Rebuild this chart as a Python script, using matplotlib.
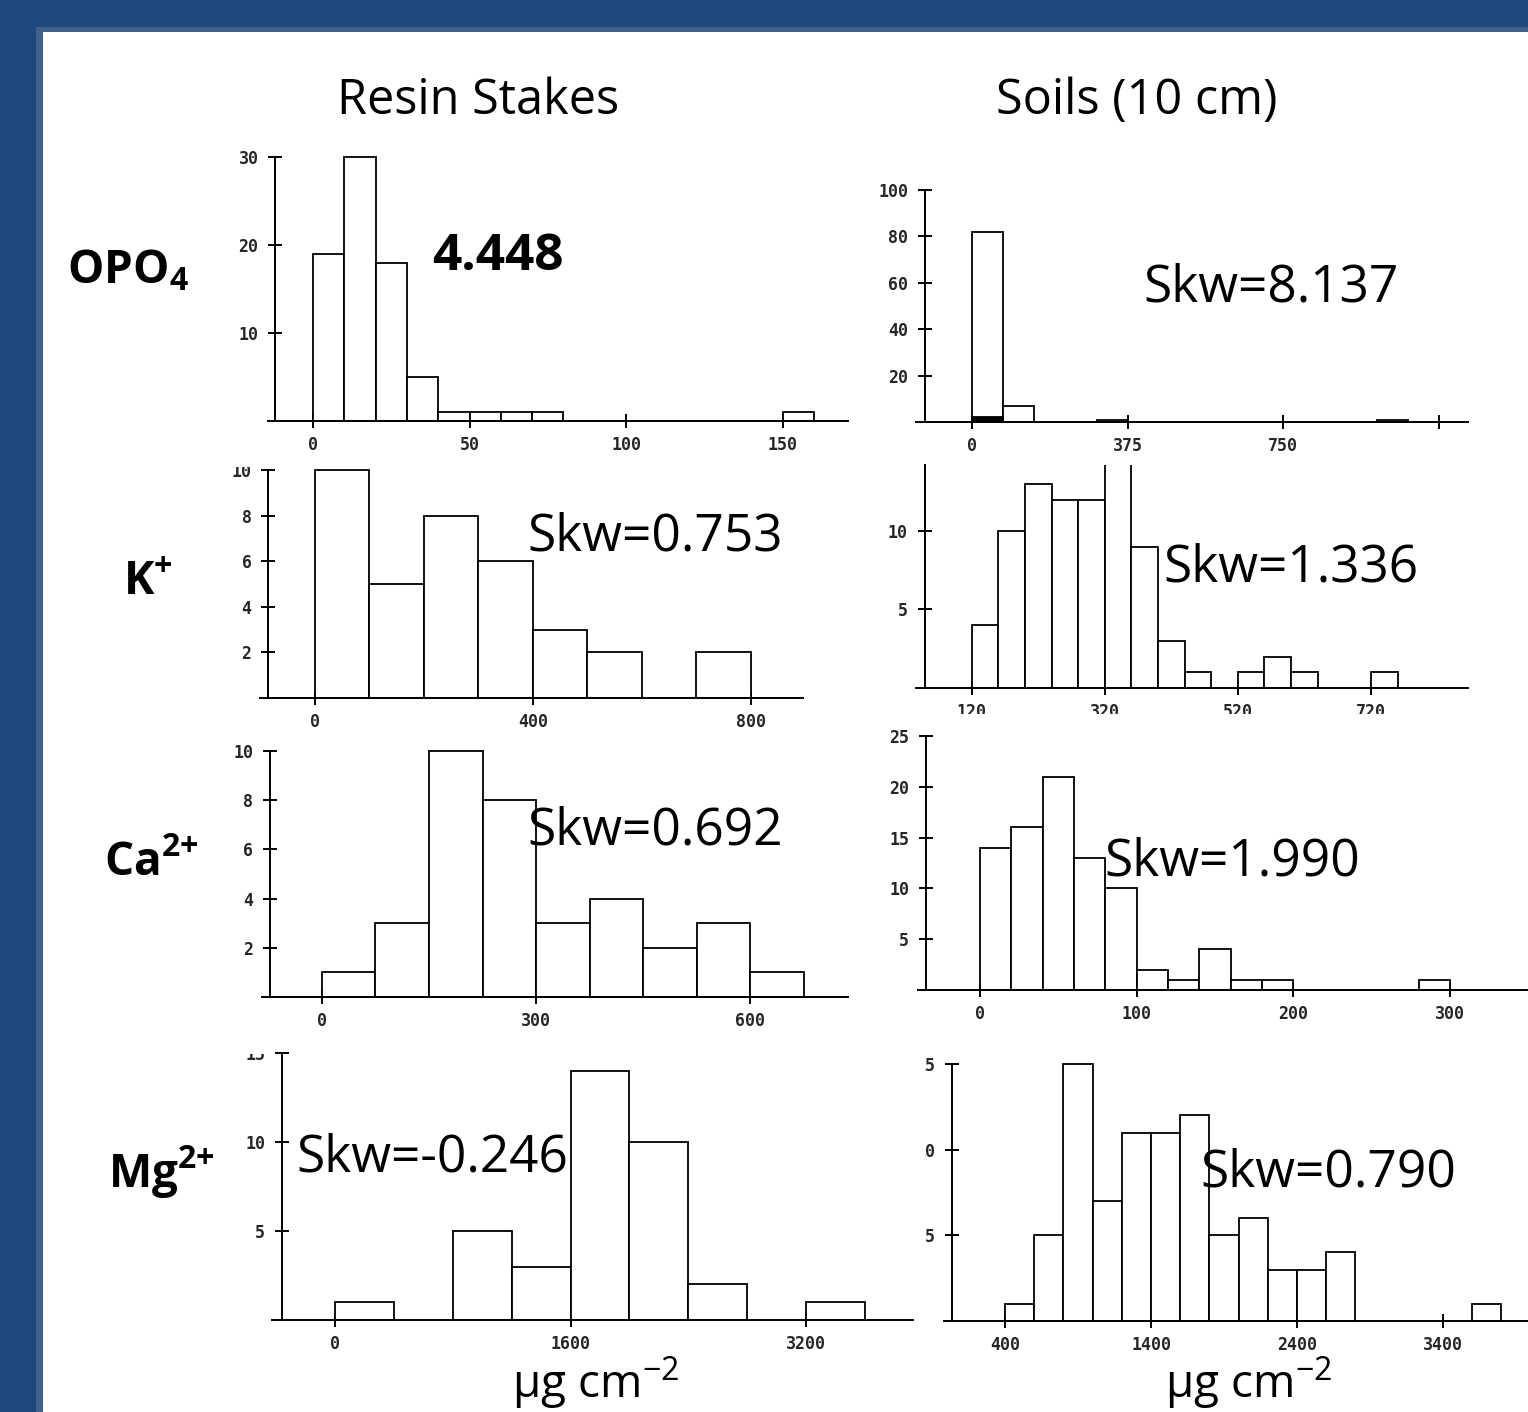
import numpy as np
import matplotlib
matplotlib.use("Agg")
import matplotlib.pyplot as plt
from matplotlib.patches import Rectangle

W, H = 1528, 1412

# ---- data: histogram counts, (first bin edge, bin width) ----
opo4_resin_counts = [19, 30, 18, 5, 1, 1, 1, 1, 0, 0, 0, 0, 0, 0, 0, 1]
opo4_resin_bins = (0, 10)
opo4_soil_counts = [82, 7, 0, 0, 1, 0, 0, 0, 0, 0, 0, 0, 0, 1]
opo4_soil_dark = [2]
opo4_soil_bins = (0, 75)
k_resin_counts = [10, 5, 8, 6, 3, 2, 0, 2]
k_resin_bins = (0, 100)
k_soil_counts = [4, 10, 13, 12, 12, 17, 9, 3, 1, 0, 1, 2, 1, 0, 0, 1]
k_soil_bins = (120, 40)
ca_resin_counts = [1, 3, 10, 8, 3, 4, 2, 3, 1]
ca_resin_bins = (0, 75)
ca_soil_counts = [14, 16, 21, 13, 10, 2, 1, 4, 1, 1, 0, 0, 0, 0, 1]
ca_soil_bins = (0, 20)
mg_resin_counts = [1, 0, 5, 3, 14, 10, 2, 0, 1]
mg_resin_bins = (0, 400)
mg_soil_counts = [1, 5, 15, 7, 11, 11, 12, 5, 6, 3, 3, 4, 0, 0, 0, 0, 1]
mg_soil_bins = (400, 200)

skew_text = ["4.448", "Skw=8.137", "Skw=0.753", "Skw=1.336",
             "Skw=0.692", "Skw=1.990", "Skw=-0.246", "Skw=0.790"]
col_titles = ["Resin Stakes", "Soils (10 cm)"]
row_labels = [r"$\mathbf{OPO_4}$", r"$\mathbf{K^{{+}}}$",
              r"$\mathbf{Ca^{2{+}}}$", r"$\mathbf{Mg^{2{+}}}$"]
unit_label = r"μg cm$^{\mathrm{-2}}$"

plt.rcParams["mathtext.fontset"] = "custom"
plt.rcParams["mathtext.rm"] = "Open Sans"
plt.rcParams["mathtext.bf"] = "Open Sans:bold"
plt.rcParams["mathtext.it"] = "Open Sans:italic"

TICK_FONT = dict(family="DejaVu Sans Mono", weight="bold", size=12)
BIG_FONT = ["Open Sans", "DejaVu Sans"]


def fx(x):
    return x / W


def fy(y):
    return 1 - y / H


fig = plt.figure(figsize=(W / 100, H / 100), dpi=100)
fig.patch.set_facecolor("#1f497d")
fig.add_artist(Rectangle((fx(36), 0), 1, fy(27), transform=fig.transFigure,
                         facecolor="#41618b", edgecolor="none", zorder=-20))
fig.add_artist(Rectangle((fx(43), 0), 1, fy(32), transform=fig.transFigure,
                         facecolor="white", edgecolor="none", zorder=-19))


def panel(box, xlim, ylim, spine_x, counts, bins, xticks, yticks,
          xticklabels=None, dark=None, clip=False):
    left, right, top, bottom = box
    ax = fig.add_axes([fx(left), fy(bottom), (right - left) / W, (bottom - top) / H])
    ax.patch.set_alpha(0)
    counts = np.array(counts, dtype=float)
    lefts = bins[0] + bins[1] * np.arange(len(counts))
    keep = counts > 0
    ax.bar(lefts[keep], counts[keep], width=bins[1], align="edge",
           facecolor="white", edgecolor="black", linewidth=1.3, clip_on=clip,
           zorder=2)
    if dark is not None:
        dark = np.array(dark, dtype=float)
        ax.bar(lefts[:len(dark)], dark, width=bins[1], align="edge",
               facecolor="black", edgecolor="black", linewidth=1.3, zorder=3)
    ax.set_xlim(*xlim)
    ax.set_ylim(*ylim)
    for s in ("top", "right"):
        ax.spines[s].set_visible(False)
    ax.spines["left"].set_position(("data", spine_x))
    for s in ("left", "bottom"):
        ax.spines[s].set_linewidth(1.4)
        ax.spines[s].set_zorder(4)
    ax.set_xticks(xticks)
    ax.set_xticklabels(xticklabels if xticklabels is not None else [str(t) for t in xticks])
    ax.set_yticks(yticks)
    ax.set_yticklabels([str(t) for t in yticks])
    ax.tick_params(axis="both", direction="inout", length=10, width=1.4,
                   colors="black", labelcolor="#262626")
    ax.tick_params(axis="x", pad=6)
    ax.tick_params(axis="y", pad=7)
    for lab in ax.get_xticklabels() + ax.get_yticklabels():
        lab.set_fontfamily(TICK_FONT["family"])
        lab.set_fontweight(TICK_FONT["weight"])
        lab.set_fontsize(TICK_FONT["size"])
    return ax


# OPO4
panel((268, 848, 157, 421), (-14.4, 170.9), (0, 30), -12.1,
      opo4_resin_counts, opo4_resin_bins, [0, 50, 100, 150], [10, 20, 30])
panel((916, 1468, 190, 422), (-135, 1195), (0, 100), -113,
      opo4_soil_counts, opo4_soil_bins, [0, 375, 750, 1125], [20, 40, 60, 80, 100],
      xticklabels=["0", "375", "750", ""], dark=opo4_soil_dark)
# K+
panel((260, 803, 470, 698), (-101, 896), (0, 10), -86,
      k_resin_counts, k_resin_bins, [0, 400, 800], [2, 4, 6, 8, 10])
panel((916, 1468, 465, 688), (36, 866), (0, 14.2), 49,
      k_soil_counts, k_soil_bins, [120, 320, 520, 720], [5, 10], clip=True)
# Ca2+
panel((262, 848, 751, 997), (-84, 737), (0, 10), -73,
      ca_resin_counts, ca_resin_bins, [0, 300, 600], [2, 4, 6, 8, 10])
panel((918, 1528, 736, 990), (-39.6, 349.7), (0, 25), -34.5,
      ca_soil_counts, ca_soil_bins, [0, 100, 200, 300], [5, 10, 15, 20, 25])
# Mg2+
panel((272, 913, 1053, 1320), (-428, 3926), (0, 14.67), -360,
      mg_resin_counts, mg_resin_bins, [0, 1600, 3200], [5, 10, 15], clip=True)
panel((944, 1528, 1064, 1321), (-18, 3982), (0, 15), 37,
      mg_soil_counts, mg_soil_bins, [400, 1400, 2400, 3400], [5, 10, 15])

# cropped edges of the pasted panels
for (x0, y0, x1, y1) in [(210, 452, 262, 467), (900, 714, 1528, 727),
                         (210, 1034, 270, 1054), (893, 1050, 925, 1215)]:
    fig.add_artist(Rectangle((fx(x0), fy(y1)), (x1 - x0) / W, (y1 - y0) / H,
                             transform=fig.transFigure, facecolor="white",
                             edgecolor="none", zorder=10))

# annotations
skew_pos = [(432, 257), (1143, 288), (527, 537), (1163, 568),
            (527, 831), (1104, 862), (296, 1158), (1200, 1173)]
for i, (txt, (x, y)) in enumerate(zip(skew_text, skew_pos)):
    fig.text(fx(x), fy(y), txt, ha="left", va="center", family=BIG_FONT,
             fontsize=37, weight="bold" if i == 0 else "normal", zorder=12)

for txt, x in zip(col_titles, [478, 1137]):
    fig.text(fx(x), fy(101), txt, ha="center", va="center", family=BIG_FONT,
             fontsize=35, weight="medium", zorder=12)

for txt, (x, y) in zip(row_labels, [(128, 270), (148, 582), (151, 862), (161, 1172)]):
    fig.text(fx(x), fy(y), txt, ha="center", va="center", fontsize=33, zorder=12)

for x in [596, 1249]:
    fig.text(fx(x), fy(1398), unit_label, ha="center", va="baseline",
             family=BIG_FONT, fontsize=33, zorder=12)

fig.savefig("out.png", dpi=100)
